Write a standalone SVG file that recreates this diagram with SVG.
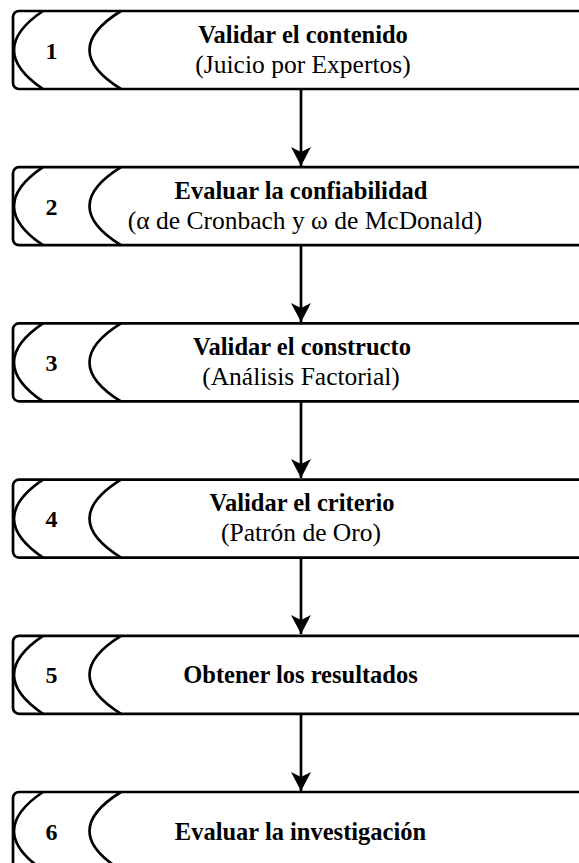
<svg xmlns="http://www.w3.org/2000/svg" width="579" height="863" viewBox="0 0 579 863">
  <style>
    .box { fill: #ffffff; stroke: #000000; stroke-width: 2.7; }
    .curve { fill: none; stroke: #000000; stroke-width: 2.7; }
    .num { font-family: "Liberation Serif", "Times New Roman", serif; font-weight: bold; font-size: 24px; text-anchor: middle; fill: #000; }
    .title { font-family: "Liberation Serif", "Times New Roman", serif; font-weight: bold; font-size: 24.5px; text-anchor: middle; fill: #000; }
    .sub { font-family: "Liberation Serif", "Times New Roman", serif; font-size: 25.5px; text-anchor: middle; fill: #000; }
    .link { stroke: #000000; stroke-width: 2.7; fill: none; }
  </style>
  <defs>
    <!-- step shape: box whose right end runs off the page, with two bracket curves on the left -->
    <g id="step">
      <rect class="box" x="13" y="0" width="600" height="78" rx="6" ry="6"/>
      <path class="curve" d="M43,0 Q-15,39 43,78"/>
      <path class="curve" d="M121,0 Q58,39 121,78"/>
    </g>
    <marker id="arrow" markerWidth="20" markerHeight="20" refX="19" refY="10" orient="auto" markerUnits="userSpaceOnUse">
      <path d="M0,0 L19,10 L0,20 L5,10 Z" fill="#000"/>
    </marker>
  </defs>

  <g id="connectors">
    <line class="link" x1="301" y1="89" x2="301" y2="166" marker-end="url(#arrow)"/>
    <line class="link" x1="301" y1="245" x2="301" y2="322" marker-end="url(#arrow)"/>
    <line class="link" x1="301" y1="401" x2="301" y2="478" marker-end="url(#arrow)"/>
    <line class="link" x1="301" y1="558" x2="301" y2="634" marker-end="url(#arrow)"/>
    <line class="link" x1="301" y1="714" x2="301" y2="791" marker-end="url(#arrow)"/>
  </g>

  <g id="step1" transform="translate(0,11)">
    <use href="#step"/>
    <text class="num" x="51.5" y="47.5">1</text>
    <text class="title" x="303" y="31.5">Validar el contenido</text>
    <text class="sub" x="303" y="61.5">(Juicio por Expertos)</text>
  </g>

  <g id="step2" transform="translate(0,167.2)">
    <use href="#step"/>
    <text class="num" x="51.5" y="47.5">2</text>
    <text class="title" x="301" y="31.5">Evaluar la confiabilidad</text>
    <text class="sub" x="305" y="61.5">(α de Cronbach y ω de McDonald)</text>
  </g>

  <g id="step3" transform="translate(0,323.4)">
    <use href="#step"/>
    <text class="num" x="51.5" y="47.5">3</text>
    <text class="title" x="302" y="31.5">Validar el constructo</text>
    <text class="sub" x="301" y="61.5">(Análisis Factorial)</text>
  </g>

  <g id="step4" transform="translate(0,479.6)">
    <use href="#step"/>
    <text class="num" x="51.5" y="47.5">4</text>
    <text class="title" x="302" y="31.5">Validar el criterio</text>
    <text class="sub" x="301" y="61.5">(Patrón de Oro)</text>
  </g>

  <g id="step5" transform="translate(0,635.8)">
    <use href="#step"/>
    <text class="num" x="51.5" y="47.5">5</text>
    <text class="title" x="300.5" y="47.5">Obtener los resultados</text>
  </g>

  <g id="step6" transform="translate(0,792)">
    <use href="#step"/>
    <text class="num" x="51.5" y="47.5">6</text>
    <text class="title" x="300.5" y="47.5">Evaluar la investigación</text>
  </g>
</svg>
